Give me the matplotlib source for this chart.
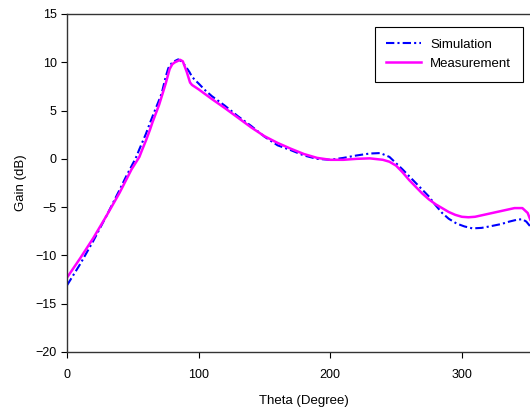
import matplotlib
matplotlib.use("Agg")
import matplotlib.pyplot as plt

# Simulation curve (theta in degrees, gain in dB)
sim_theta = [0, 10, 20, 30, 40, 45, 50, 52, 55, 60, 63, 65, 70, 72, 75, 77, 80, 84.5,
             87, 90, 93, 95, 97, 100, 105, 110, 115, 120, 130, 140, 150, 160, 170,
             180, 190, 200, 210, 220, 230, 238, 245, 250, 255, 260, 265, 270, 275,
             280, 285, 290, 296, 302, 308, 315, 321, 330, 336, 342, 346, 349, 352]
sim_gain = [-13.1, -10.9, -8.5, -5.9, -3.2, -1.8, -0.5, 0.0, 1.0, 2.6, 3.7, 4.4, 6.1,
            6.8, 8.5, 9.4, 10.0, 10.3, 10.1, 9.6, 9.0, 8.5, 8.2, 7.8, 7.1, 6.5, 6.0,
            5.5, 4.4, 3.4, 2.3, 1.4, 0.9, 0.35, 0.0, -0.1, 0.1, 0.35, 0.55, 0.6, 0.2,
            -0.45, -1.1, -1.8, -2.5, -3.2, -3.9, -4.8, -5.6, -6.2, -6.7, -7.0, -7.2,
            -7.15, -7.0, -6.75, -6.5, -6.3, -6.25, -6.5, -7.0]

# Measurement curve
meas_theta = [0, 10, 20, 30, 40, 49, 55, 57, 60, 63, 65, 70, 75, 78, 80, 82, 86, 88,
              91, 93.5, 95, 100, 110, 120, 130, 140, 150, 160, 170, 180, 190, 200,
              210, 220, 230, 240, 245, 250, 255, 260, 265, 270, 275, 280, 285, 290,
              295, 300, 305, 310, 320, 330, 340, 346, 350, 352]
meas_gain = [-12.3, -10.3, -8.2, -5.9, -3.5, -1.1, 0.2, 0.9, 1.9, 3.0, 3.8, 5.6, 7.8,
             9.3, 9.8, 10.0, 10.25, 10.1, 9.0, 7.9, 7.65, 7.2, 6.2, 5.25, 4.25, 3.25,
             2.35, 1.65, 1.05, 0.5, 0.1, -0.1, -0.1, 0.0, 0.05, -0.1, -0.3, -0.7,
             -1.4, -2.2, -2.9, -3.6, -4.2, -4.7, -5.1, -5.5, -5.8, -6.0, -6.05, -6.0,
             -5.7, -5.4, -5.1, -5.1, -5.6, -6.3]

x_ticks = [0, 100, 200, 300]
y_ticks = [-20, -15, -10, -5, 0, 5, 10, 15]

plt.rcParams['font.family'] = ['Liberation Sans', 'DejaVu Sans']

fig = plt.figure(figsize=(5.3, 4.09), dpi=100)
ax = fig.add_axes([0.1264, 0.1394, 0.894, 0.8264])

ax.plot(sim_theta, sim_gain, color='#0000FF', lw=1.5,
        linestyle=(0, (4, 1.5, 1, 1.5)), label='Simulation')
ax.plot(meas_theta, meas_gain, color='#FF00FF', lw=1.8, label='Measurement')

ax.set_xlim(0, 360)
ax.set_ylim(-20, 15)
ax.set_xticks(x_ticks)
ax.set_yticks(y_ticks)
ax.tick_params(direction='out', length=4, width=0.8, labelsize=9, colors='black')
ax.tick_params(axis='x', pad=8)
for s in ax.spines.values():
    s.set_color('#333333')
    s.set_linewidth(1.0)

ax.set_xlabel('Theta (Degree)', fontsize=9.5, labelpad=10)
ax.set_ylabel('Gain (dB)', fontsize=9.5, labelpad=6)

leg = ax.legend(loc='upper right', bbox_to_anchor=(0.962, 0.9615), borderaxespad=0,
                fontsize=9.5, fancybox=False, framealpha=1, edgecolor='black',
                handlelength=2.6, borderpad=0.9, handletextpad=0.7)
leg.get_frame().set_linewidth(0.8)

fig.savefig('out.png', dpi=100)
